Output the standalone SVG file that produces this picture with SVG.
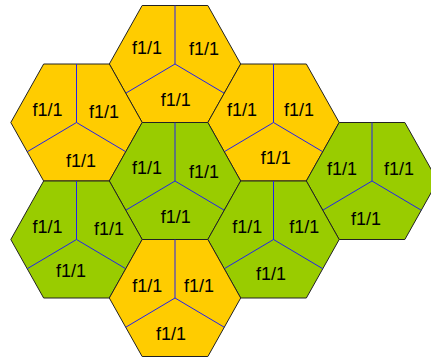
<svg xmlns="http://www.w3.org/2000/svg" xmlns:xlink="http://www.w3.org/1999/xlink" width="431" height="360" viewBox="0 0 431 360">
<style>
.y{fill:#FFCC00}
.g{fill:#99CC00}
.hex{stroke:#222;stroke-width:1}
.sp{fill:none;stroke:#2222EE;stroke-width:1}
text{font-family:"Liberation Sans",Arial,sans-serif;font-size:18px;fill:#000;text-anchor:middle}
</style>
<defs>
<polygon id="h" points="-65.7,0 -32.85,-58.5 32.85,-58.5 65.7,0 32.85,58.5 -32.85,58.5"/>
<path id="s" d="M0,0V-58.5M0,0L-49.3,29.25M0,0L49.3,29.25"/>
</defs>
<rect width="431" height="360" fill="#fff"/>
<g id="hex1" transform="translate(175,64)">
<use xlink:href="#h" class="y hex"/><use xlink:href="#s" class="sp"/>
</g>
<g id="hex2" transform="translate(76.5,122.5)">
<use xlink:href="#h" class="y hex"/><use xlink:href="#s" class="sp"/>
</g>
<g id="hex3" transform="translate(273.5,122.5)">
<use xlink:href="#h" class="y hex"/><use xlink:href="#s" class="sp"/>
</g>
<g id="hex4" transform="translate(175,181)">
<use xlink:href="#h" class="g hex"/><use xlink:href="#s" class="sp"/>
</g>
<g id="hex5" transform="translate(372,181)">
<use xlink:href="#h" class="g hex"/><use xlink:href="#s" class="sp"/>
</g>
<g id="hex6" transform="translate(76.5,239.5)">
<use xlink:href="#h" class="g hex"/><use xlink:href="#s" class="sp"/>
</g>
<g id="hex7" transform="translate(273.5,239.5)">
<use xlink:href="#h" class="g hex"/><use xlink:href="#s" class="sp"/>
</g>
<g id="hex8" transform="translate(175,298)">
<use xlink:href="#h" class="y hex"/><use xlink:href="#s" class="sp"/>
</g>
<g id="labels">
<text x="147" y="53.5">f1/1</text><text x="204" y="54.5">f1/1</text><text x="175.7" y="106">f1/1</text>
<text x="47.5" y="116">f1/1</text><text x="104" y="118">f1/1</text><text x="81" y="166.5">f1/1</text>
<text x="242" y="116">f1/1</text><text x="299" y="116">f1/1</text><text x="275.7" y="164.3">f1/1</text>
<text x="147" y="174.3">f1/1</text><text x="204" y="177.7">f1/1</text><text x="175.7" y="223.3">f1/1</text>
<text x="342" y="175">f1/1</text><text x="399" y="175">f1/1</text><text x="366" y="225">f1/1</text>
<text x="47.5" y="233.3">f1/1</text><text x="109" y="235">f1/1</text><text x="71" y="277.3">f1/1</text>
<text x="247.3" y="232.7">f1/1</text><text x="304.3" y="232.7">f1/1</text><text x="271" y="280">f1/1</text>
<text x="147.3" y="291.7">f1/1</text><text x="199" y="291.7">f1/1</text><text x="171" y="340">f1/1</text>
</g>
</svg>
